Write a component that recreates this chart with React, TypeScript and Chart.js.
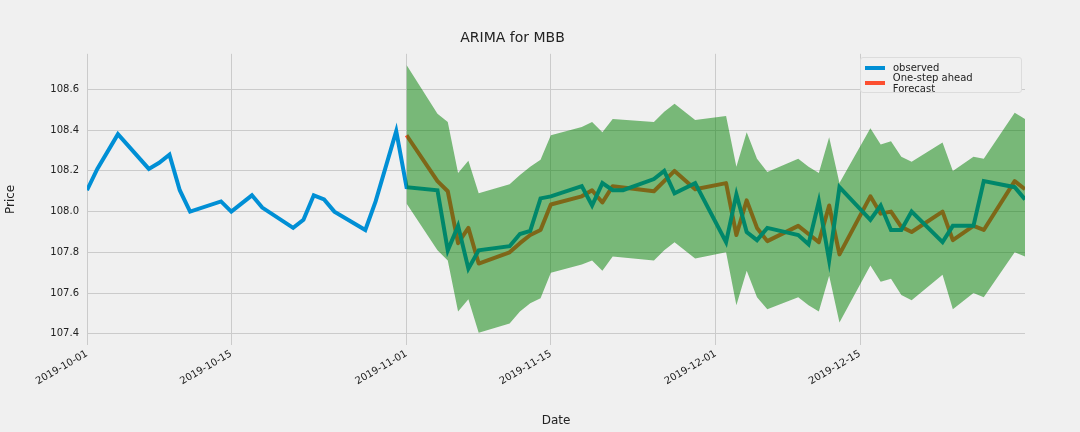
import React, { useEffect, useRef } from "react";
import { Chart, registerables } from "chart.js";
Chart.register(...registerables);

// day offsets from 2019-10-01
const obsDays = [0,1,3,6,7,8,9,10,13,14,16,17,20,21,22,23,24,27,28,30,31,34,35,36,37,38,41,42,43,44,45,48,49,50,51,52,55,56,57,59,62,63,64,65,66,69,70,71,72,73,76,77,78,79,80,83,84,86,87,90,91];
const obsVals = [108.105,108.21,108.38,108.21,108.24,108.28,108.105,108.0,108.05,108.0,108.08,108.02,107.92,107.96,108.08,108.06,108.0,107.91,108.05,108.395,108.12,108.105,107.81,107.93,107.72,107.81,107.83,107.89,107.905,108.065,108.075,108.125,108.03,108.14,108.105,108.105,108.16,108.2,108.09,108.14,107.85,108.085,107.9,107.86,107.92,107.885,107.84,108.05,107.76,108.12,107.96,108.03,107.91,107.91,108.0,107.85,107.93,107.93,108.15,108.12,108.06];
const fcDays = [31,34,35,36,37,38,41,42,43,44,45,48,49,50,51,55,57,59,62,63,64,65,66,69,70,71,72,73,76,77,78,79,80,83,84,86,87,90,91];
const fcVals = [108.375,108.15,108.1,107.845,107.92,107.745,107.8,107.845,107.885,107.91,108.035,108.075,108.105,108.045,108.125,108.1,108.2,108.11,108.14,107.885,108.055,107.92,107.855,107.93,107.89,107.85,108.03,107.79,108.075,107.99,108.0,107.925,107.9,108.0,107.86,107.93,107.91,108.15,108.11];
const bandDays = [31,34,35,36,37,38,41,42,43,44,45,48,49,50,51,55,56,57,59,62,63,64,65,66,69,70,71,72,73,76,77,78,79,80,83,84,86,87,90,91];
const upperVals = [108.72,108.48,108.44,108.19,108.25,108.09,108.135,108.18,108.22,108.255,108.375,108.415,108.44,108.39,108.455,108.44,108.49,108.53,108.45,108.47,108.22,108.39,108.26,108.195,108.26,108.22,108.19,108.365,108.14,108.41,108.33,108.345,108.27,108.245,108.34,108.2,108.27,108.26,108.485,108.455];
const lowerVals = [108.04,107.81,107.76,107.51,107.57,107.405,107.45,107.51,107.55,107.575,107.7,107.74,107.76,107.71,107.78,107.76,107.81,107.85,107.77,107.8,107.54,107.71,107.58,107.52,107.58,107.54,107.51,107.685,107.455,107.735,107.655,107.67,107.59,107.565,107.69,107.52,107.6,107.58,107.8,107.78];
const xTickDays = [0,14,31,45,61,75];
const xTickLabels = ["2019-10-01","2019-10-15","2019-11-01","2019-11-15","2019-12-01","2019-12-15"];
const yTicks = [107.4,107.6,107.8,108.0,108.2,108.4,108.6];

const pts = (d: number[], v: number[]) => d.map((x, i) => ({ x, y: v[i] }));
const FONT = "'DejaVu Sans', sans-serif";

export default function App() {
  const ref = useRef<HTMLCanvasElement>(null);
  useEffect(() => {
    const chart = new Chart(ref.current!, {
      type: "line",
      data: {
        datasets: [
          { data: pts(bandDays, upperVals), borderWidth: 0, pointRadius: 0, fill: "+1", backgroundColor: "rgba(0,128,0,0.5)", borderColor: "rgba(0,0,0,0)" },
          { data: pts(bandDays, lowerVals), borderWidth: 0, pointRadius: 0, fill: false, borderColor: "rgba(0,0,0,0)" },
          { data: pts(obsDays, obsVals), borderColor: "#008fd5", borderWidth: 4, pointRadius: 0, fill: false, tension: 0 },
          { data: pts(fcDays, fcVals), borderColor: "#fc4f30", borderWidth: 4, pointRadius: 0, fill: false, tension: 0, borderJoinStyle: "round" },
        ],
      },
      options: {
        animation: false,
        responsive: false,
        layout: { padding: { right: 55, left: 0, top: 0, bottom: 0 } },
        plugins: {
          legend: { display: false },
          tooltip: { enabled: false },
          title: { display: true, text: "ARIMA for MBB", color: "#222", font: { family: FONT, size: 14, weight: "normal" }, padding: { top: 30, bottom: 7 } },
        },
        scales: {
          x: {
            type: "linear", min: 0, max: 91,
            afterBuildTicks: (s: any) => { s.ticks = xTickDays.map((v) => ({ value: v })); },
            afterFit: (s: any) => { s.height = 87; },
            ticks: { autoSkip: false, maxRotation: 30, minRotation: 30, color: "#222", font: { family: FONT, size: 10 },
              callback: (v: any) => xTickLabels[xTickDays.indexOf(Number(v))] ?? "" },
            grid: { color: "#cbcbcb", lineWidth: 1, drawTicks: false },
            border: { display: false },
            title: { display: true, text: "Date", color: "#222", font: { family: FONT, size: 12 }, padding: { top: 0 } },
          },
          y: {
            min: 107.345, max: 108.775,
            afterBuildTicks: (s: any) => { s.ticks = yTicks.map((v) => ({ value: v })); },
            afterFit: (s: any) => { s.width = 87; },
            ticks: { color: "#222", font: { family: FONT, size: 10 }, padding: 8, callback: (v: any) => Number(v).toFixed(1) },
            grid: { color: "#cbcbcb", lineWidth: 1, drawTicks: false },
            border: { display: false },
            title: { display: true, text: "Price", color: "#222", font: { family: FONT, size: 12 } },
          },
        },
      } as any,
    });
    return () => chart.destroy();
  }, []);
  const item = (color: string, label: string) => (
    <div style={{ display: "flex", alignItems: "center", height: 15 }}>
      <span style={{ display: "inline-block", width: 20, height: 4, background: color, marginRight: 8 }} />
      <span>{label}</span>
    </div>
  );
  return (
    <div style={{ position: "fixed", left: 0, top: 0, width: 1080, height: 432, background: "#f0f0f0" }}>
      <canvas ref={ref} width={1080} height={432} />
      <div style={{ position: "absolute", left: 860, top: 57, width: 152, padding: "2px 4px", border: "1px solid #dcdcdc", borderRadius: 3, background: "#f0f0f0", fontFamily: FONT, fontSize: 10, color: "#222" }}>
        {item("#008fd5", "observed")}
        {item("#fc4f30", "One-step ahead Forecast")}
      </div>
    </div>
  );
}
